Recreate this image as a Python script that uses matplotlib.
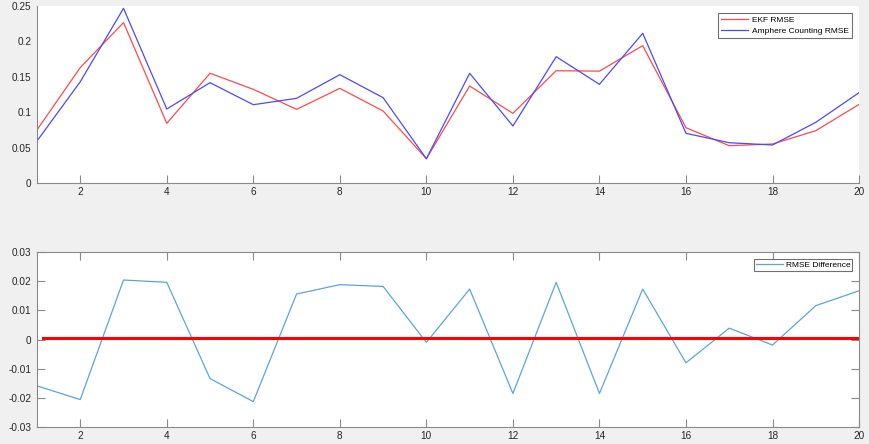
import numpy as np
import matplotlib.pyplot as plt
from matplotlib.ticker import FuncFormatter

plt.rcParams['font.family'] = ['Liberation Sans', 'DejaVu Sans']

# data
runs = list(range(1, 21))
ekf_rmse = [0.075, 0.163, 0.2265, 0.0843, 0.155, 0.1323, 0.104, 0.1337, 0.1017, 0.0343,
            0.137, 0.0984, 0.1586, 0.158, 0.194, 0.0781, 0.0527, 0.0551, 0.0739, 0.111]
amp_rmse = [0.0593, 0.143, 0.2467, 0.1045, 0.1417, 0.1106, 0.1196, 0.153, 0.1205, 0.0343,
            0.155, 0.0805, 0.1784, 0.1394, 0.2114, 0.0702, 0.0569, 0.0537, 0.0857, 0.1276]
rmse_diff = [-0.0159, -0.0206, 0.0204, 0.0196, -0.0134, -0.0213, 0.0156, 0.0188, 0.0182, -0.001,
             0.0173, -0.0185, 0.0196, -0.0185, 0.0173, -0.008, 0.0039, -0.0019, 0.0116, 0.0167]
ref_x = [1.14, 20]
ref_y = [0.0005, 0.0005]

bg = '#f0f0f0'
axcol = '#8a8a8a'
txtcol = '#262626'
fs = 7.2
lfs = 6.0

fig = plt.figure(figsize=(8.7, 4.44), dpi=100, facecolor=bg)
ax1 = fig.add_axes([0.0425, 0.5878, 0.9449, 0.3987])
ax2 = fig.add_axes([0.0425, 0.0383, 0.9449, 0.3941])

fmt = FuncFormatter(lambda v, p: '%g' % round(v, 6))

# top: RMSE of both estimators
ax1.plot(runs, ekf_rmse, color='#ff4a4a', lw=0.9, label='EKF RMSE')
ax1.plot(runs, amp_rmse, color='#4a4aff', lw=0.9, label='Amphere Counting RMSE')
ax1.set_xlim(1, 20)
ax1.set_ylim(0, 0.25)
ax1.set_xticks(range(2, 21, 2))
ax1.set_yticks(np.arange(0, 0.26, 0.05))
ax1.yaxis.set_major_formatter(fmt)
for s in ['top', 'right']:
    ax1.spines[s].set_visible(False)
for s in ['left', 'bottom']:
    ax1.spines[s].set_color(axcol)
ax1.tick_params(axis='x', direction='in', length=5.5, color=axcol, labelsize=fs,
                labelcolor=txtcol, pad=3)
ax1.tick_params(axis='y', direction='in', length=0, labelsize=fs, labelcolor=txtcol, pad=4)
leg1 = ax1.legend(loc='upper right', fontsize=lfs, fancybox=False, framealpha=1,
                  edgecolor='#707070', handlelength=3.2, handletextpad=0.5,
                  borderaxespad=0.8, borderpad=0.4, labelspacing=0.35)
leg1.get_frame().set_linewidth(0.8)

# bottom: difference between the two
ax2.plot(runs, rmse_diff, color='#5aa6dc', lw=0.9, label='RMSE Difference')
ax2.plot(ref_x, ref_y, color='#ff0000', lw=2.2)
ax2.set_xlim(1, 20)
ax2.set_ylim(-0.03, 0.03)
ax2.set_xticks(range(2, 21, 2))
ax2.set_yticks(np.arange(-0.03, 0.031, 0.01))
ax2.yaxis.set_major_formatter(fmt)
for s in ax2.spines.values():
    s.set_color(axcol)
ax2.tick_params(direction='in', length=5.5, color=axcol, labelsize=fs, labelcolor=txtcol,
                top=True, right=True, pad=3)
ax2.tick_params(axis='y', pad=4)
leg2 = ax2.legend(loc='upper right', fontsize=lfs, fancybox=False, framealpha=1,
                  edgecolor='#707070', handlelength=3.3, handletextpad=0.3,
                  borderaxespad=0.8, borderpad=0.25)
leg2.get_frame().set_linewidth(0.8)

fig.savefig('out.png', dpi=100, facecolor=bg)
